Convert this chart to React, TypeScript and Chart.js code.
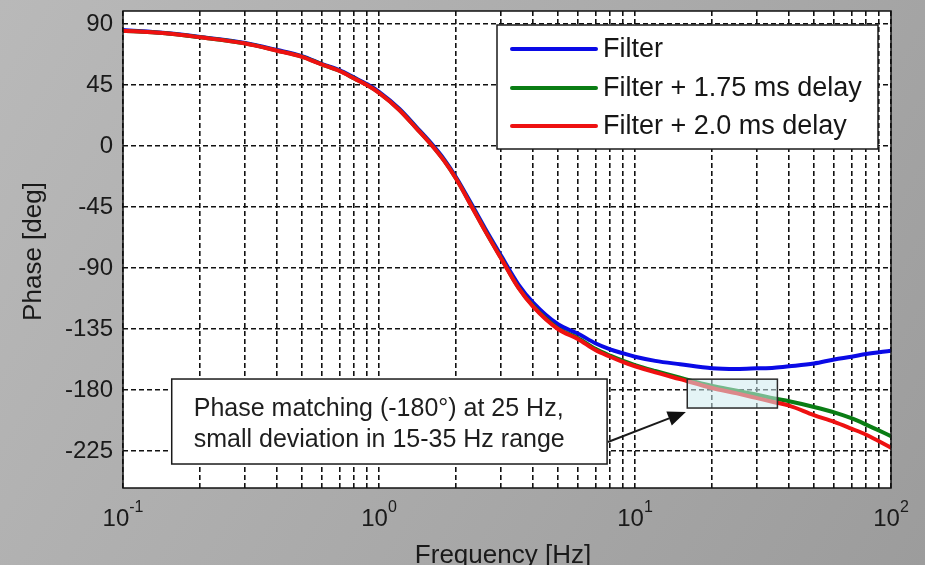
import React, { useEffect, useRef } from 'react';
import { Chart, registerables } from 'chart.js';

Chart.register(...registerables);

// ---- data ----
const FREQ = [0.1, 0.15, 0.2, 0.3, 0.4, 0.5, 0.6, 0.7, 0.8, 0.9, 1.0, 1.2, 1.4, 1.6, 1.8, 2.0, 2.3, 2.6, 3.0, 3.5, 4, 5, 6, 7, 8, 9, 10, 12, 15, 20, 25, 30, 35, 40, 50, 60, 70, 80, 100];

const FILTER = [85.5, 83.2, 80.5, 76, 70.8, 66.3, 60.5, 56, 50.5, 45.5, 40, 27.5, 14, 2, -10, -23, -43, -61, -81, -102, -115.5, -131.5, -138.5, -145.5, -150, -153, -155.5, -158.5, -161, -164, -164.5, -164, -163.5, -162.5, -160.5, -157.5, -155.5, -153.5, -151];

const FILTER_175 = [85, 83, 80.2, 75.7, 70.4, 65.9, 60.1, 55.5, 49.9, 44.9, 39.3, 26.8, 13.2, 1.1, -11, -24, -44.3, -62.5, -82.7, -104.2, -118, -134.5, -141.8, -149.6, -154.7, -158.6, -161.6, -166, -171, -177, -180.5, -183.5, -186.3, -188.3, -192.5, -196.5, -200.8, -205.5, -214];

const FILTER_200 = [85, 83, 80.2, 75.6, 70.3, 65.8, 60, 55.4, 49.8, 44.8, 39.2, 26.6, 13, 0.9, -11.2, -24.2, -44.6, -62.8, -83, -104.5, -118.5, -135, -142.5, -150.5, -155.5, -159.5, -162.5, -167, -172, -178.5, -182.5, -186, -189, -191.5, -198.5, -203.5, -208.5, -213, -222.5];

const SERIES_LABELS = ['Filter', 'Filter + 1.75 ms delay', 'Filter + 2.0 ms delay'];
const SERIES_COLORS = ['#0a0ae6', '#0a7d14', '#ee1111'];

const Y_TICKS = [-225, -180, -135, -90, -45, 0, 45, 90];
const X_DECADES = [0.1, 1, 10, 100];
const X_DECADE_EXPONENTS = ['-1', '0', '1', '2'];
const X_MINOR_MULTIPLIERS = [1, 2, 3, 4, 5, 6, 7, 8, 9];

const X_TITLE = 'Frequency [Hz]';
const Y_TITLE = 'Phase [deg]';

const NOTE_LINES = ['Phase matching (-180°) at 25 Hz,', 'small deviation in 15-35 Hz range'];
// annotation box / highlight / arrow in data coordinates (Hz, deg)
const NOTE_BOX = { x0: 0.155, x1: 7.78, y0: -171.9, y1: -234.6 };
const HIGHLIGHT = { x0: 16, x1: 36, y0: -172, y1: -193.3 };
const ARROW = { fromX: 7.84, fromY: -218.4, toX: 15.8, toY: -196.2 };

const FONT = '"Liberation Sans", Arial, Helvetica, sans-serif';

function buildPoints(values: number[]) {
  return FREQ.map((f, i) => ({ x: f, y: values[i] }));
}

const decorPlugin = {
  id: 'decor',
  beforeDraw(chart: any) {
    const { ctx, width, height, chartArea: a } = chart;
    ctx.save();
    const g = ctx.createLinearGradient(0, 0, width, height);
    g.addColorStop(0, '#b9b9b9');
    g.addColorStop(0.6, '#a8a8a8');
    g.addColorStop(1, '#9c9c9c');
    ctx.fillStyle = g;
    ctx.fillRect(0, 0, width, height);
    ctx.fillStyle = '#ffffff';
    ctx.fillRect(a.left, a.top, a.right - a.left, a.bottom - a.top);
    ctx.restore();
  },
  afterDatasetsDraw(chart: any) {
    const { ctx, chartArea: a, scales } = chart;
    const xs = scales.x;
    const ys = scales.y;
    ctx.save();

    // highlight rectangle (semi-transparent, over the curves)
    const hx0 = xs.getPixelForValue(HIGHLIGHT.x0);
    const hx1 = xs.getPixelForValue(HIGHLIGHT.x1);
    const hy0 = ys.getPixelForValue(HIGHLIGHT.y0);
    const hy1 = ys.getPixelForValue(HIGHLIGHT.y1);
    ctx.fillStyle = 'rgba(205, 235, 238, 0.55)';
    ctx.fillRect(hx0, hy0, hx1 - hx0, hy1 - hy0);
    ctx.strokeStyle = '#2a2a2a';
    ctx.lineWidth = 1.5;
    ctx.strokeRect(hx0, hy0, hx1 - hx0, hy1 - hy0);

    // annotation box
    const bx0 = xs.getPixelForValue(NOTE_BOX.x0);
    const bx1 = xs.getPixelForValue(NOTE_BOX.x1);
    const by0 = ys.getPixelForValue(NOTE_BOX.y0);
    const by1 = ys.getPixelForValue(NOTE_BOX.y1);
    ctx.fillStyle = '#ffffff';
    ctx.fillRect(bx0, by0, bx1 - bx0, by1 - by0);
    ctx.strokeStyle = '#1a1a1a';
    ctx.lineWidth = 1.5;
    ctx.strokeRect(bx0, by0, bx1 - bx0, by1 - by0);
    ctx.fillStyle = '#1e1e1e';
    ctx.font = `25px ${FONT}`;
    ctx.textAlign = 'left';
    ctx.textBaseline = 'alphabetic';
    ctx.fillText(NOTE_LINES[0], bx0 + 22, by0 + 37);
    ctx.fillText(NOTE_LINES[1], bx0 + 22, by0 + 68);

    // arrow
    const ax0 = xs.getPixelForValue(ARROW.fromX);
    const ay0 = ys.getPixelForValue(ARROW.fromY);
    const ax1 = xs.getPixelForValue(ARROW.toX);
    const ay1 = ys.getPixelForValue(ARROW.toY);
    const ang = Math.atan2(ay1 - ay0, ax1 - ax0);
    const headLen = 18;
    const headHalf = 7.5;
    ctx.strokeStyle = '#1a1a1a';
    ctx.lineWidth = 2;
    ctx.beginPath();
    ctx.moveTo(ax0, ay0);
    ctx.lineTo(ax1 - headLen * Math.cos(ang), ay1 - headLen * Math.sin(ang));
    ctx.stroke();
    ctx.fillStyle = '#111';
    ctx.beginPath();
    ctx.moveTo(ax1, ay1);
    ctx.lineTo(ax1 - headLen * Math.cos(ang) + headHalf * Math.sin(ang), ay1 - headLen * Math.sin(ang) - headHalf * Math.cos(ang));
    ctx.lineTo(ax1 - headLen * Math.cos(ang) - headHalf * Math.sin(ang), ay1 - headLen * Math.sin(ang) + headHalf * Math.cos(ang));
    ctx.closePath();
    ctx.fill();

    // legend box
    const lx0 = 497, lx1 = 878, ly0 = 25, ly1 = 149;
    ctx.fillStyle = '#ffffff';
    ctx.fillRect(lx0, ly0, lx1 - lx0, ly1 - ly0);
    ctx.strokeStyle = '#1a1a1a';
    ctx.lineWidth = 1.5;
    ctx.strokeRect(lx0, ly0, lx1 - lx0, ly1 - ly0);
    const rows = [49, 88, 126];
    ctx.font = `27px ${FONT}`;
    ctx.textBaseline = 'middle';
    SERIES_LABELS.forEach((label, i) => {
      ctx.strokeStyle = SERIES_COLORS[i];
      ctx.lineWidth = 4;
      ctx.lineCap = 'round';
      ctx.beginPath();
      ctx.moveTo(512, rows[i]);
      ctx.lineTo(596, rows[i]);
      ctx.stroke();
      ctx.fillStyle = '#161616';
      ctx.fillText(label, 603, rows[i] + 1);
    });
    ctx.lineCap = 'butt';

    // frame
    ctx.strokeStyle = '#111';
    ctx.lineWidth = 1.5;
    ctx.strokeRect(a.left, a.top, a.right - a.left, a.bottom - a.top);
    ctx.restore();
  },
  afterDraw(chart: any) {
    const { ctx, chartArea: a, scales } = chart;
    const xs = scales.x;
    ctx.save();
    ctx.fillStyle = '#1a1a1a';
    ctx.textBaseline = 'alphabetic';
    ctx.textAlign = 'left';
    // x tick labels with superscript exponents
    X_DECADES.forEach((v, i) => {
      const px = xs.getPixelForValue(v);
      ctx.font = `24px ${FONT}`;
      const wb = ctx.measureText('10').width;
      ctx.font = `16px ${FONT}`;
      const we = ctx.measureText(X_DECADE_EXPONENTS[i]).width;
      const start = px - (wb + we) / 2;
      ctx.font = `24px ${FONT}`;
      ctx.fillText('10', start, a.bottom + 38);
      ctx.font = `16px ${FONT}`;
      ctx.fillText(X_DECADE_EXPONENTS[i], start + wb, a.bottom + 24);
    });
    // axis titles
    ctx.font = `26px ${FONT}`;
    ctx.textAlign = 'center';
    ctx.fillText(X_TITLE, (a.left + a.right) / 2 - 4, a.bottom + 75);
    ctx.translate(41, (a.top + a.bottom) / 2 + 2);
    ctx.rotate(-Math.PI / 2);
    ctx.fillText(Y_TITLE, 0, 0);
    ctx.restore();
  },
};

export default function App() {
  const canvasRef = useRef<HTMLCanvasElement | null>(null);

  useEffect(() => {
    document.body.style.margin = '0';
    const canvas = canvasRef.current;
    if (!canvas) return;
    const xTicks: number[] = [];
    X_DECADES.forEach((d, i) => {
      if (i === X_DECADES.length - 1) {
        xTicks.push(d);
      } else {
        X_MINOR_MULTIPLIERS.forEach((m) => xTicks.push(+(d * m).toPrecision(3)));
      }
    });

    const chart = new Chart(canvas, {
      type: 'line',
      data: {
        datasets: [
          { label: SERIES_LABELS[0], data: buildPoints(FILTER), borderColor: SERIES_COLORS[0], order: 2 },
          { label: SERIES_LABELS[1], data: buildPoints(FILTER_175), borderColor: SERIES_COLORS[1], order: 1 },
          { label: SERIES_LABELS[2], data: buildPoints(FILTER_200), borderColor: SERIES_COLORS[2], order: 0 },
        ].map((d) => ({
          ...d,
          borderWidth: 4,
          pointRadius: 0,
          fill: false,
          cubicInterpolationMode: 'monotone' as const,
          borderCapStyle: 'round' as const,
          borderJoinStyle: 'round' as const,
        })),
      },
      options: {
        responsive: false,
        animation: false,
        events: [],
        layout: { padding: { top: 11, right: 34, left: 0, bottom: 0 } },
        plugins: {
          legend: { display: false },
          tooltip: { enabled: false },
          title: { display: false },
        },
        scales: {
          x: {
            type: 'logarithmic',
            min: 0.1,
            max: 100,
            afterBuildTicks: (scale: any) => {
              scale.ticks = xTicks.map((v) => ({ value: v }));
            },
            afterFit: (scale: any) => {
              scale.height = 77;
              scale.paddingLeft = 0;
              scale.paddingRight = 0;
            },
            ticks: { display: false },
            grid: { color: '#111', lineWidth: 1.6, drawTicks: false },
            border: { display: false, dash: [5, 3] },
          },
          y: {
            type: 'linear',
            min: -252.3,
            max: 99.6,
            afterBuildTicks: (scale: any) => {
              scale.ticks = Y_TICKS.map((v) => ({ value: v }));
            },
            afterFit: (scale: any) => {
              scale.width = 123;
              scale.paddingTop = 0;
              scale.paddingBottom = 0;
            },
            ticks: {
              color: '#1a1a1a',
              padding: 10,
              font: { family: FONT, size: 24 },
              callback: (v: any) => String(v),
            },
            grid: { color: '#111', lineWidth: 1.6, drawTicks: false },
            border: { display: false, dash: [5, 3] },
          },
        },
      },
      plugins: [decorPlugin],
    });
    return () => chart.destroy();
  }, []);

  return (
    <div style={{ position: 'fixed', left: 0, top: 0, width: 925, height: 565 }}>
      <canvas ref={canvasRef} width={925} height={565} style={{ width: 925, height: 565, display: 'block' }} />
    </div>
  );
}
